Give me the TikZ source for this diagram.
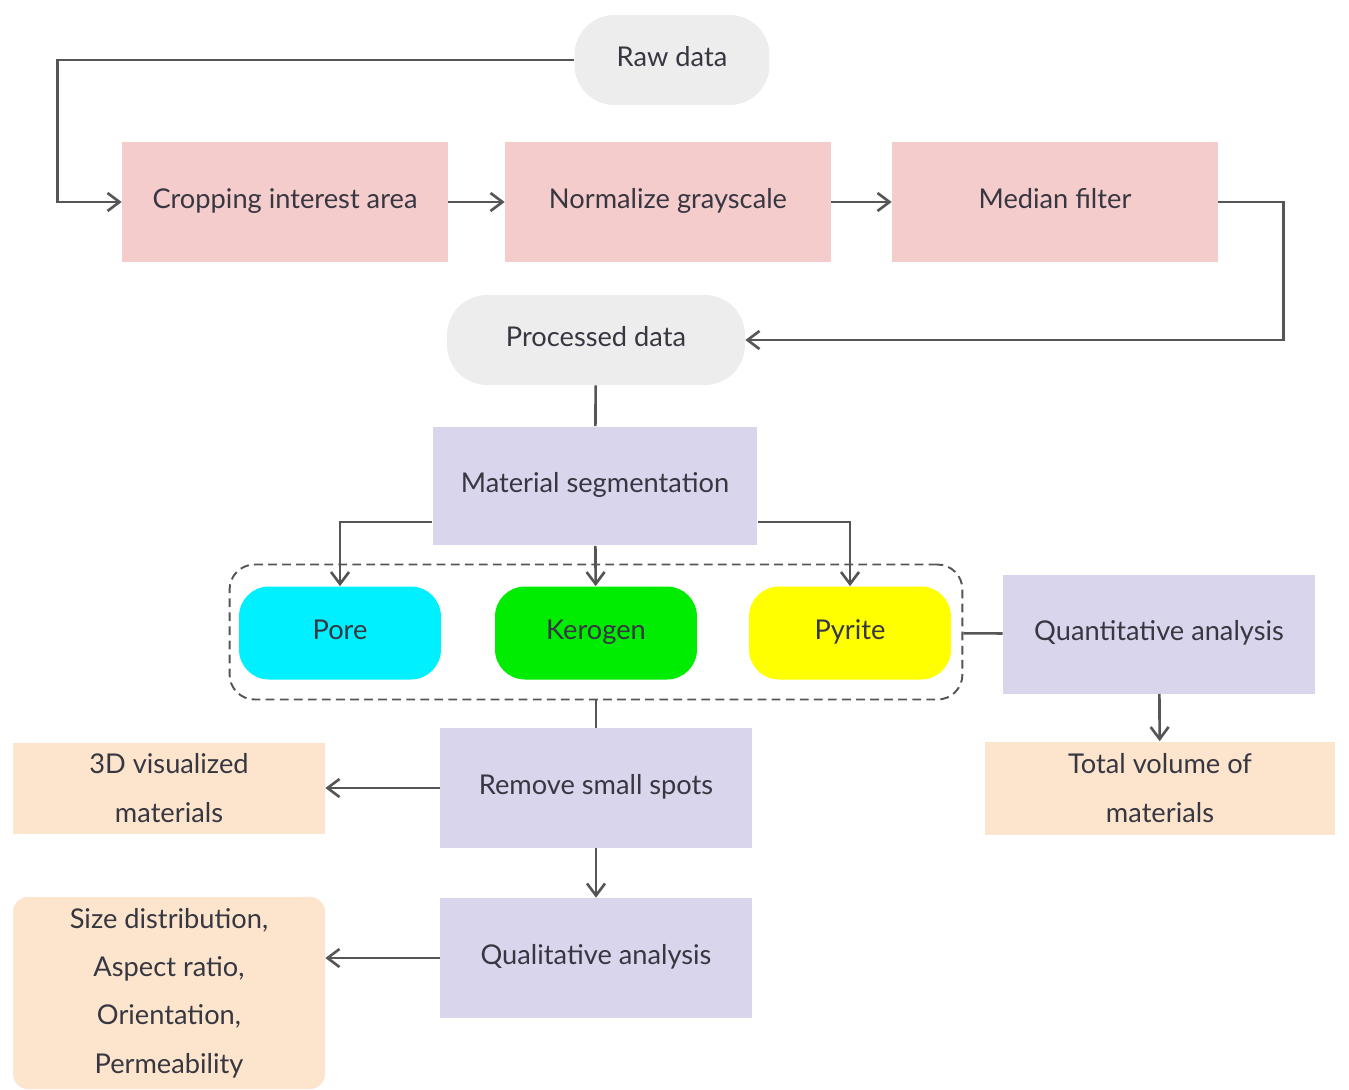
\documentclass[tikz,border=0pt]{standalone}
\usepackage{fontspec}
\setmainfont{Lato}
\usetikzlibrary{arrows.meta}
\usetikzlibrary{calc}

\definecolor{txt}{RGB}{55,55,65}
\definecolor{ln}{RGB}{85,85,85}
\definecolor{pinkbox}{RGB}{245,204,204}
\definecolor{lilac}{RGB}{217,213,237}
\definecolor{peach}{RGB}{252,228,205}
\definecolor{blob}{RGB}{237,237,237}
\definecolor{porec}{RGB}{0,240,255}
\definecolor{kerc}{RGB}{0,236,0}
\definecolor{pyrc}{RGB}{255,255,0}

\begin{document}
\begin{tikzpicture}[x=0.02cm,y=0.02cm,
                every node/.style={text=txt,font=\fontsize{15.5}{27.5}\selectfont,align=center,inner sep=0pt},
                one/.style={text height=0.8em,text depth=0.1em},
                data/.style={one,fill=blob,rounded corners=0.8cm,minimum height=1.8cm},
                prep/.style={one,fill=pinkbox,minimum width=6.52cm,minimum height=2.4cm},
                proc/.style={one,fill=lilac,minimum width=6.24cm,minimum height=2.38cm},
                phase/.style={one,rounded corners=0.6cm,minimum width=4.04cm,minimum height=1.86cm},
                result/.style={fill=peach,minimum width=6.24cm},
                link/.style={draw=ln,line width=1.5pt},
                arr/.style={link,-{Straight Barb[length=2.4mm,width=3.6mm]}}]
                \useasboundingbox (0,0) rectangle (1349,-1089);
                \node[data,minimum width=3.9cm] (R) at (672,-60) {Raw data};
                \node[prep] (C1) at (285,-202) {Cropping interest area};
                \node[prep] (C2) at (668,-202) {Normalize grayscale};
                \node[prep] (C3) at (1055,-202) {Median filter};
                \node[data,minimum width=5.96cm] (Pd) at (596,-340) {Processed data};
                \node[proc,minimum width=6.5cm] (M) at (595,-486) {Material segmentation};
                \node[draw=ln,line width=1.1pt,dash pattern=on 5pt off 3pt,rounded corners=0.5cm,
                      minimum width=14.66cm,minimum height=2.7cm] (G) at (596,-632) {};
                \node[phase,fill=porec] (P1) at (340,-633) {Pore};
                \node[phase,fill=kerc] (P2) at (596,-633) {Kerogen};
                \node[phase,fill=pyrc] (P3) at (850,-633) {Pyrite};
                \node[proc] (Q1) at (1159,-634) {Quantitative analysis};
                \node[result,minimum width=7cm,minimum height=1.86cm] (V) at (1160,-788) {Total volume of\\materials};
                \node[proc,minimum height=2.4cm] (S) at (596,-788) {Remove small spots};
                \node[result,minimum height=1.82cm] (D) at (169,-788) {3D visualized\\materials};
                \node[proc,minimum height=2.4cm] (Q2) at (596,-958) {Qualitative analysis};
                \node[result,rounded corners=0.3cm,minimum height=3.84cm] (F) at (169,-993) {Size distribution,\\Aspect ratio,\\Orientation,\\Permeability};
                \draw[arr] (R.west) -| ([xshift=-1.28cm]C1.west) -- (C1.west);
                \draw[arr] (C1) to (C2);
                \draw[arr] (C2) to (C3);
                \draw[arr] (C3.east) -- ++(65,0) |- (Pd.east);
                \draw[link] (Pd) to (M);
                \draw[arr] ($(M.west)+(0,-36)$) -| (P1.north);
                \draw[arr] (M) to (P2);
                \draw[arr] ($(M.east)+(0,-36)$) -| (P3.north);
                \draw[link] (Q1) to (G);
                \draw[arr] (Q1) to (V);
                \draw[link] (G) to (S);
                \draw[arr] (S) to (D);
                \draw[arr] (S) to (Q2);
                \draw[arr] (Q2.west) to (Q2.west -| F.east);
            \end{tikzpicture}
\end{document}
